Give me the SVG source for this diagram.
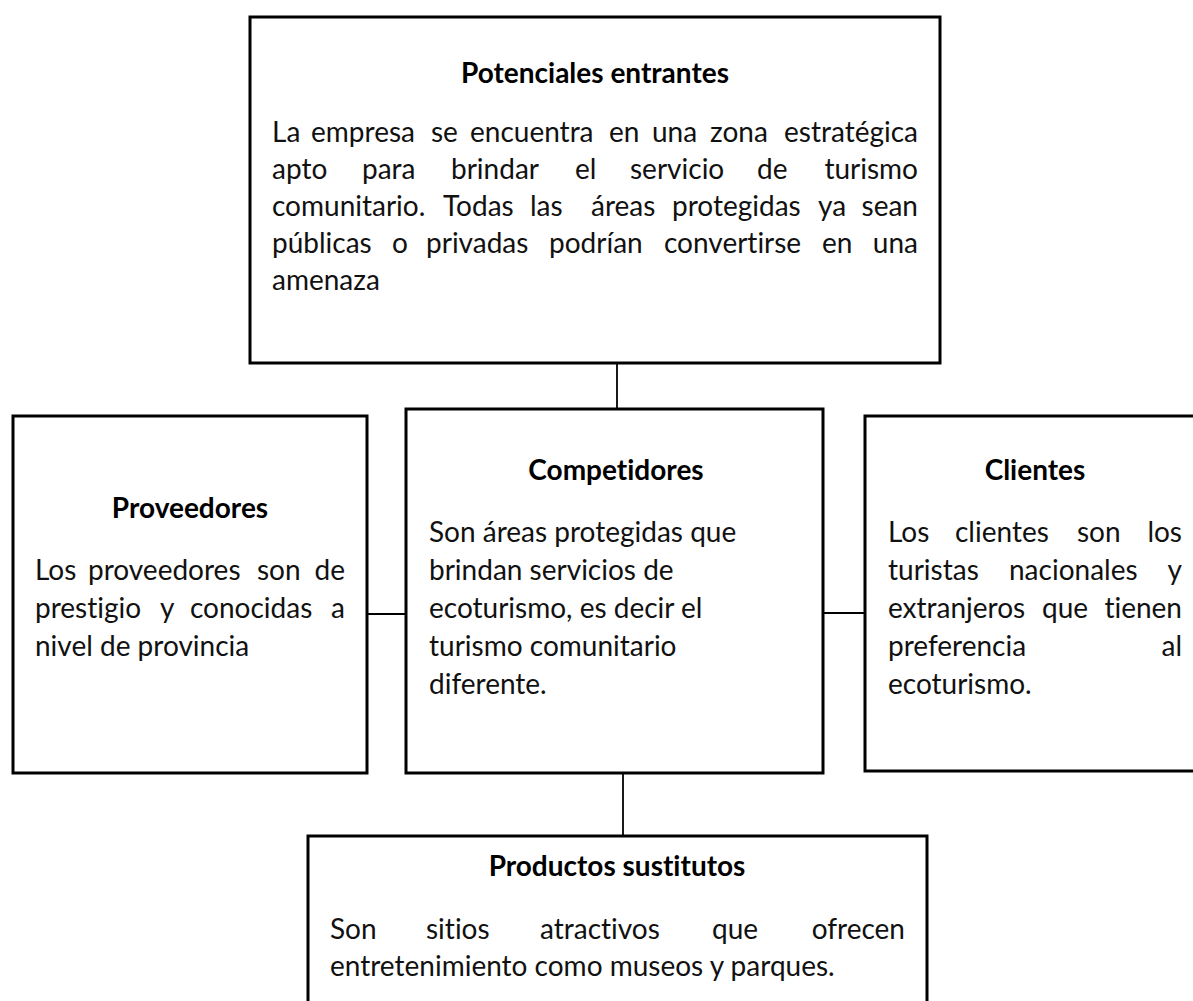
<svg xmlns="http://www.w3.org/2000/svg" width="1193" height="1001" viewBox="0 0 1193 1001">
<style>
.box{fill:#fff;stroke:#000;stroke-width:3}
.con{stroke:#000;stroke-width:1.8;fill:none}
.t{font-family:Lato,"Open Sans","Liberation Sans",sans-serif;font-size:28px;fill:#111;font-variant-ligatures:none}
.h{font-family:Lato,"Open Sans","Liberation Sans",sans-serif;font-size:28px;font-weight:bold;fill:#000;text-anchor:middle;font-variant-ligatures:none}
.e{text-anchor:end}
</style>
<rect width="1193" height="1001" fill="#fff"/>
<g id="connectors">
<line class="con" x1="617" y1="363" x2="617" y2="409"/>
<line class="con" x1="367" y1="614" x2="406" y2="614"/>
<line class="con" x1="823" y1="613" x2="865" y2="613"/>
<line class="con" x1="623" y1="773" x2="623" y2="836"/>
</g>
<g id="potenciales-entrantes">
<rect class="box" x="250" y="17" width="690" height="346"/>
<text class="h" x="595" y="83">Potenciales entrantes</text>
<text class="t" y="142"><tspan x="272">La</tspan><tspan x="311">empresa</tspan><tspan x="431">se</tspan><tspan x="470">encuentra</tspan><tspan x="609">en</tspan><tspan x="652">una</tspan><tspan x="710">zona</tspan></text>
<text class="t e" x="918" y="142">estratégica</text>
<text class="t" y="179"><tspan x="272">apto</tspan><tspan x="362">para</tspan><tspan x="451">brindar</tspan><tspan x="575">el</tspan><tspan x="630">servicio</tspan><tspan x="757">de</tspan></text>
<text class="t e" x="918" y="179">turismo</text>
<text class="t" y="216"><tspan x="272">comunitario.</tspan><tspan x="443">Todas</tspan><tspan x="530">las</tspan><tspan x="591">áreas</tspan><tspan x="672">protegidas</tspan><tspan x="818">ya</tspan></text>
<text class="t e" x="918" y="216">sean</text>
<text class="t" y="253"><tspan x="272">públicas</tspan><tspan x="392">o</tspan><tspan x="426">privadas</tspan><tspan x="549">podrían</tspan><tspan x="664">convertirse</tspan><tspan x="822">en</tspan></text>
<text class="t e" x="918" y="253">una</text>
<text class="t" x="272" y="290">amenaza</text>
</g>
<g id="proveedores">
<rect class="box" x="13" y="416" width="354" height="357"/>
<text class="h" x="190" y="518">Proveedores</text>
<text class="t" y="580"><tspan x="35">Los</tspan><tspan x="88">proveedores</tspan><tspan x="257">son</tspan></text>
<text class="t e" x="345" y="580">de</text>
<text class="t" y="618"><tspan x="35">prestigio</tspan><tspan x="160">y</tspan><tspan x="190">conocidas</tspan></text>
<text class="t e" x="345" y="618">a</text>
<text class="t" x="35" y="656">nivel de provincia</text>
</g>
<g id="competidores">
<rect class="box" x="406" y="409" width="417" height="364"/>
<text class="h" x="616" y="480">Competidores</text>
<text class="t" x="429" y="542">Son áreas protegidas que</text>
<text class="t" x="429" y="580">brindan servicios de</text>
<text class="t" x="429" y="618">ecoturismo, es decir el</text>
<text class="t" x="429" y="656">turismo comunitario</text>
<text class="t" x="429" y="694">diferente.</text>
</g>
<g id="clientes">
<rect class="box" x="865" y="416" width="340" height="355"/>
<text class="h" x="1035" y="480">Clientes</text>
<text class="t" y="542"><tspan x="888">Los</tspan><tspan x="955">clientes</tspan><tspan x="1077">son</tspan></text>
<text class="t e" x="1182" y="542">los</text>
<text class="t" y="580"><tspan x="888">turistas</tspan><tspan x="1009">nacionales</tspan></text>
<text class="t e" x="1182" y="580">y</text>
<text class="t" y="618"><tspan x="888">extranjeros</tspan><tspan x="1042">que</tspan></text>
<text class="t e" x="1182" y="618">tienen</text>
<text class="t" x="888" y="656">preferencia</text>
<text class="t e" x="1182" y="656">al</text>
<text class="t" x="888" y="694">ecoturismo.</text>
</g>
<g id="productos-sustitutos">
<rect class="box" x="308" y="836" width="619" height="180"/>
<text class="h" x="617" y="876">Productos sustitutos</text>
<text class="t" y="939"><tspan x="330">Son</tspan><tspan x="426">sitios</tspan><tspan x="540">atractivos</tspan><tspan x="712">que</tspan></text>
<text class="t e" x="905" y="939">ofrecen</text>
<text class="t" x="330" y="976">entretenimiento como museos y parques.</text>
</g>
</svg>
